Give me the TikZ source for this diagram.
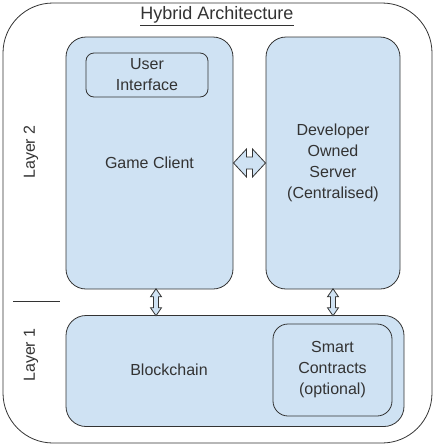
\documentclass[tikz,border=0pt]{standalone}
\usepackage{fontspec}
\setmainfont{Liberation Sans}
\usetikzlibrary{calc}
\definecolor{boxblue}{HTML}{CFE2F3}
\definecolor{inkgray}{HTML}{333333}

\begin{document}
\begin{tikzpicture}[x=1pt,y=-1pt,font=\fontsize{16}{21}\selectfont,
    text=inkgray,
    panel/.style={draw=inkgray,fill=boxblue,rounded corners=20pt,line width=0.8pt,
      inner sep=0pt,align=center},
    subpanel/.style={panel,rounded corners=#1},
    dblarrow/.style={draw=inkgray,fill=boxblue,line width=0.8pt,line join=miter}]
\useasboundingbox (0,0) rectangle (440,448); % bordo dell'immagine

\node[draw=inkgray,line width=0.8pt,rounded corners=50pt,minimum width=429pt,
      minimum height=440pt] (outer) at (217.5,223) {}; % contenitore esterno
\node[font=\fontsize{18}{20}\selectfont] (title) at (217,16)
     {\underline{Hybrid Architecture}}; % titolo

% livello 2
\node[panel,minimum width=167pt,minimum height=252pt] (client) at (149.5,163)
     {Game Client}; % client di gioco
\node[subpanel=8pt,minimum width=122pt,minimum height=44pt] (ui) at (147,75)
     {User\\Interface}; % interfaccia utente
\node[panel,minimum width=134pt,minimum height=252pt] (server) at (333,163)
     {Developer\\Owned\\Server\\(Centralised)}; % server centralizzato

% livello 1
\node[panel,minimum width=338pt,minimum height=111pt] (chain) at (235,371) {}; % blockchain
\node (chainlbl) at (169,370) {Blockchain}; % etichetta blockchain
\node[subpanel=15pt,minimum width=119pt,minimum height=92pt] (contracts) at (332.5,370)
     {Smart\\Contracts\\(optional)}; % smart contract

% etichette dei livelli
\node[rotate=90] (layertwo) at (31,152) {Layer 2};
\node[rotate=90] (layerone) at (31,355) {Layer 1};
\coordinate (sepl) at (13,301);
\coordinate (sepr) at (60,301);
\draw[draw=inkgray,line width=0.8pt] (sepl) -- (sepr); % separatore

% frecce doppie
\coordinate (mcs) at ($(client.east)!0.5!(server.west)$); % client <-> server
\coordinate (mcc) at ($(client.south)!0.5!(chain.north -| client.south)+(6.5,0)$); % client <-> blockchain
\coordinate (msc) at ($(server.south)!0.5!(chain.north -| server.south)$); % server <-> blockchain
\draw[dblarrow,shift={(mcs)}] (-16,0) -- (-3,-14) -- (-3,-6) -- (3,-6) -- (3,-14)
     -- (16,0) -- (3,14) -- (3,6) -- (-3,6) -- (-3,14) -- cycle;
\foreach \m in {mcc,msc}
  \draw[dblarrow,shift={(\m)}] (0,-13.5) -- (5.5,-5.5) -- (2.5,-5.5) -- (2.5,5.5)
       -- (5.5,5.5) -- (0,13.5) -- (-5.5,5.5) -- (-2.5,5.5) -- (-2.5,-5.5)
       -- (-5.5,-5.5) -- cycle;
\end{tikzpicture}
\end{document}
